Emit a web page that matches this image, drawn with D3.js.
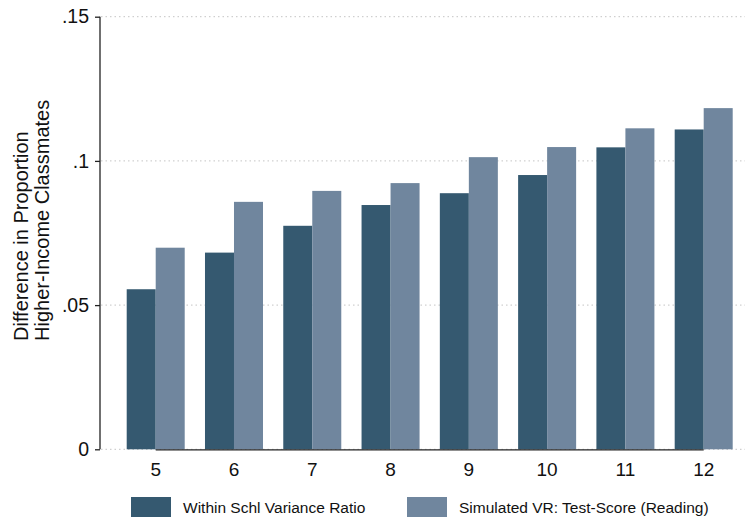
<!DOCTYPE html>
<html>
<head>
<meta charset="utf-8">
<script src="https://cdn.jsdelivr.net/npm/d3@7"></script>
<style>
  html, body { margin: 0; padding: 0; background: #fff; }
  svg { display: block; font-family: "Liberation Sans", Arial, sans-serif; }
</style>
</head>
<body>
<svg id="chart" width="745" height="523"></svg>
<script>
const grades = ["5", "6", "7", "8", "9", "10", "11", "12"];
const seriesNames = ["Within Schl Variance Ratio", "Simulated VR: Test-Score (Reading)"];
const withinVR = [0.0555, 0.0682, 0.0775, 0.0847, 0.0888, 0.0951, 0.1047, 0.1109];
const simulatedVR = [0.0699, 0.0858, 0.0896, 0.0923, 0.1013, 0.1048, 0.1113, 0.1183];
const yTickValues = [0, 0.05, 0.1, 0.15];
const yTickLabels = ["0", ".05", ".1", ".15"];
const yTitleLines = ["Difference in Proportion", "Higher-Income Classmates"];
const colors = ["#355970", "#70869e"];

const svg = d3.select("#chart");
const W = 745, H = 523;

const y = d3.scaleLinear().domain([0, 0.15]).range([449.3, 16.7]);
const x = d3.scaleBand().domain(grades).range([126.7, 732.7]).paddingInner(0.259).paddingOuter(0);
const xs = d3.scaleBand().domain([0, 1]).range([0, x.bandwidth()]).padding(0);

// gridlines
svg.append("g").selectAll("line").data(yTickValues).join("line")
  .attr("x1", 101).attr("x2", W)
  .attr("y1", d => y(d)).attr("y2", d => y(d))
  .attr("stroke", "#c4c4c4").attr("stroke-width", 1)
  .attr("stroke-dasharray", "1.5,3");

// bars
const data = grades.map((g, i) => ({ g, vals: [withinVR[i], simulatedVR[i]] }));
const groups = svg.append("g").selectAll("g").data(data).join("g")
  .attr("transform", d => `translate(${x(d.g)},0)`);
groups.selectAll("rect").data(d => d.vals.map((v, k) => ({ v, k }))).join("rect")
  .attr("x", d => xs(d.k))
  .attr("width", xs.bandwidth())
  .attr("y", d => y(d.v))
  .attr("height", d => y(0) - y(d.v))
  .attr("fill", d => colors[d.k]);

// x axis line (from first to last category center)
svg.append("line")
  .attr("x1", x(grades[0]) + x.bandwidth() / 2)
  .attr("x2", x(grades[grades.length - 1]) + x.bandwidth() / 2)
  .attr("y1", y(0) + 0.5).attr("y2", y(0) + 0.5)
  .attr("stroke", "#222").attr("stroke-width", 1.3);

// x labels
svg.append("g").selectAll("text").data(grades).join("text")
  .attr("x", d => x(d) + x.bandwidth() / 2)
  .attr("y", 476)
  .attr("text-anchor", "middle")
  .attr("font-size", "19px")
  .attr("fill", "#111")
  .text(d => d);

// y axis
const yAxis = d3.axisLeft(y).tickValues(yTickValues)
  .tickFormat((d, i) => yTickLabels[i]).tickSize(5).tickPadding(6);
const ya = svg.append("g").attr("transform", "translate(100,0)").call(yAxis);
ya.select(".domain").attr("stroke", "#222").attr("stroke-width", 1.3)
  .attr("d", `M0,${y(0.15)}V${y(0)}`);
ya.selectAll(".tick line").attr("stroke", "#222").attr("stroke-width", 1.3);
ya.selectAll(".tick text").attr("font-size", "19.5px").attr("fill", "#111")
  .attr("font-family", "Liberation Sans, Arial, sans-serif");

// y title
const yt = svg.append("text")
  .attr("transform", "translate(0,341) rotate(-90)")
  .attr("font-size", "20px").attr("fill", "#111").attr("text-anchor", "start");
yTitleLines.forEach((t, i) => {
  yt.append("tspan").attr("x", 0).attr("y", 28 + i * 20.5).text(t);
});

// legend
const legendX = [131, 407];
const leg = svg.append("g").selectAll("g").data(seriesNames).join("g")
  .attr("transform", (d, i) => `translate(${legendX[i]},497)`);
leg.append("rect").attr("width", 40).attr("height", 20)
  .attr("fill", (d, i) => colors[i]);
leg.append("text").attr("x", 52).attr("y", 15.5)
  .attr("font-size", "15.5px").attr("fill", "#111").text(d => d);
</script>
</body>
</html>
